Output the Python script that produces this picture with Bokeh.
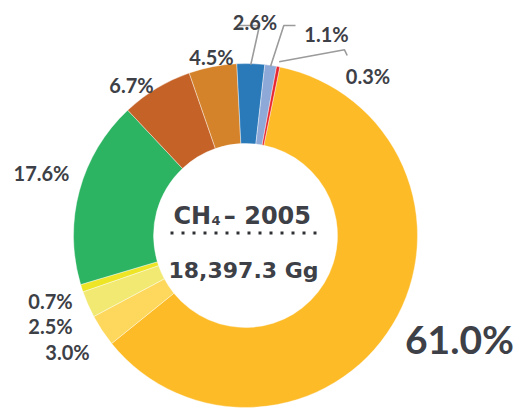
import numpy as np
from bokeh.plotting import figure
from bokeh.models import Range1d, ColumnDataSource
from bokeh.core.properties import value
from bokeh.embed import file_html
from bokeh.resources import INLINE

# ---- data ----
categories = ["A", "B", "C", "D", "E", "F", "G", "H", "I", "J"]
shares = [61.0, 3.0, 2.5, 0.7, 17.6, 6.7, 4.5, 2.6, 1.1, 0.3]
labels = ["61.0%", "3.0%", "2.5%", "0.7%", "17.6%", "6.7%", "4.5%", "2.6%", "1.1%", "0.3%"]
title_main = "CH"
title_sub = "4"
title_rest = "\u2013 2005"
total_label = "18,397.3 Gg"

# ---- styles / layout ----
colors = ["#FDBB27", "#FDD85C", "#F1E971", "#EDE526", "#2CB462",
          "#C46228", "#D5832B", "#2A7ABA", "#8EA9D8", "#E8252E"]
TXT = "#3D4046"
W, H = 517, 408


def Y(py):
    return H - py


CX, CY = 245, Y(235)
R_OUT, R_IN = 172, 92
START_CW = 11.5  # degrees clockwise from 12 o'clock

# label anchors: (center x, baseline y) in page pixels, font size
label_pos = {
    "61.0%": (459, 338, 39),
    "3.0%": (67, 351.5, 20),
    "2.5%": (50, 325, 20),
    "0.7%": (50, 300, 20),
    "17.6%": (41, 172.3, 20),
    "6.7%": (131, 84.3, 20),
    "4.5%": (211, 56.7, 20),
    "2.6%": (254.5, 21.7, 20),
    "1.1%": (326, 33.3, 20),
    "0.3%": (367.5, 75, 20),
}
# leader elbows (page px) after the slice point
leaders = {
    "2.6%": ([259, 236.7], [25, 25]),
    "1.1%": ([283.3, 295], [25, 25]),
    "0.3%": ([344, 346.7], [49.3, 55]),
}

vals = np.array(shares, dtype=float)
frac = vals / vals.sum()
cum = np.concatenate([[0], np.cumsum(frac)]) * 360.0
start_cw = START_CW + cum[:-1]
end_cw = START_CW + cum[1:]
mid_cw = (start_cw + end_cw) / 2

src = ColumnDataSource(dict(
    cat=categories,
    start=np.deg2rad(90 - start_cw),
    end=np.deg2rad(90 - end_cw),
    color=colors,
))

p = figure(width=W, height=H, output_backend="svg", toolbar_location=None,
           x_range=Range1d(0, W), y_range=Range1d(0, H),
           x_axis_location=None, y_axis_location=None, min_border=0,
           outline_line_color=None, background_fill_color="white")
p.grid.visible = False

p.annular_wedge(x=CX, y=CY, inner_radius=R_IN, outer_radius=R_OUT,
                start_angle="start", end_angle="end", direction="clock",
                fill_color="color", line_color="white", line_width=0.4,
                source=src)

# leader lines
for i, lab in enumerate(labels):
    if lab in leaders:
        a = np.deg2rad(mid_cw[i])
        r0 = R_OUT - 1 if lab != "0.3%" else R_OUT + 5
        sx = CX + r0 * np.sin(a)
        sy = CY + r0 * np.cos(a)
        ex, ey = leaders[lab]
        xs = [sx] + list(ex)
        ys = [sy] + [Y(v) for v in ey]
        p.line(xs, ys, line_color="#9B9B9B", line_width=1.6)

# labels
for lab in labels:
    lx, ly, fs = label_pos[lab]
    p.text(x=[lx], y=[Y(ly)], text=[lab], text_align="center",
           text_baseline="alphabetic", text_color=TXT,
           text_font=value("Lato"), text_font_style="bold",
           text_font_size=f"{fs}px")

# center text
CF = value("DejaVu Sans")
p.text(x=[173], y=[Y(215)], text=[title_main], text_align="left",
       text_baseline="alphabetic", text_color=TXT, text_font=CF,
       text_font_style="bold", text_font_size="24px")
p.text(x=[211], y=[Y(220)], text=[title_sub], text_align="left",
       text_baseline="alphabetic", text_color=TXT, text_font=CF,
       text_font_style="bold", text_font_size="13px")
p.text(x=[310.5], y=[Y(215)], text=[title_rest], text_align="right",
       text_baseline="alphabetic", text_color=TXT, text_font=CF,
       text_font_style="bold", text_font_size="24px")
p.line([170, 318], [Y(232.5), Y(232.5)], line_color="#2E3033",
       line_width=3.2, line_dash="3 8")
p.text(x=[243], y=[Y(270)], text=[total_label], text_align="center",
       text_baseline="alphabetic", text_color=TXT, text_font=CF,
       text_font_style="bold", text_font_size="22px")

open("out.html", "w").write(file_html(p, INLINE))
